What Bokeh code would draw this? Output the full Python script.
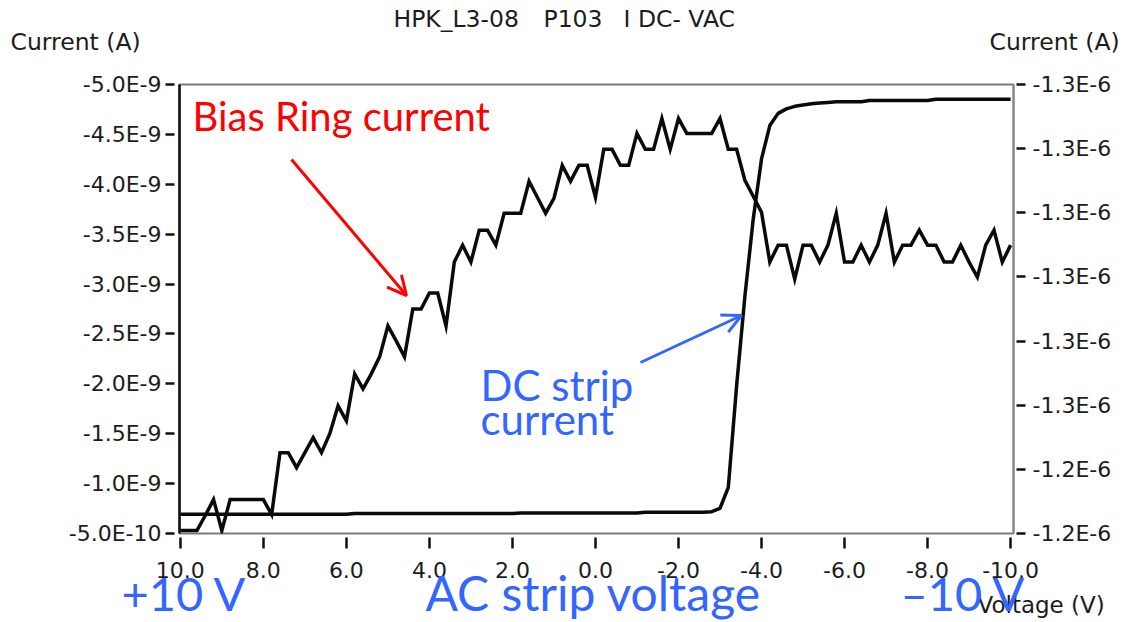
from bokeh.plotting import figure
from bokeh.layouts import column
from bokeh.models import (Range1d, LinearAxis, FixedTicker, CustomJSTickFormatter,
                          Label, Arrow, OpenHead, ColumnDataSource)
from bokeh.embed import file_html
from bokeh.resources import INLINE

# Voltage sweep on the AC strip (V)
voltage = [10.0, 9.8, 9.6, 9.4, 9.2, 9.0, 8.8, 8.6, 8.4, 8.2,
           8.0, 7.8, 7.6, 7.4, 7.2, 7.0, 6.8, 6.6, 6.4, 6.2,
           6.0, 5.8, 5.6, 5.4, 5.2, 5.0, 4.8, 4.6, 4.4, 4.2,
           4.0, 3.8, 3.6, 3.4, 3.2, 3.0, 2.8, 2.6, 2.4, 2.2,
           2.0, 1.8, 1.6, 1.4, 1.2, 1.0, 0.8, 0.6, 0.4, 0.2,
           0.0, -0.2, -0.4, -0.6, -0.8, -1.0, -1.2, -1.4, -1.6, -1.8,
           -2.0, -2.2, -2.4, -2.6, -2.8, -3.0, -3.2, -3.4, -3.6, -3.8,
           -4.0, -4.2, -4.4, -4.6, -4.8, -5.0, -5.2, -5.4, -5.6, -5.8,
           -6.0, -6.2, -6.4, -6.6, -6.8, -7.0, -7.2, -7.4, -7.6, -7.8,
           -8.0, -8.2, -8.4, -8.6, -8.8, -9.0, -9.2, -9.4, -9.6, -9.8,
           -10.0]

# Bias ring current (nA)
bias_ring_na = [-0.53, -0.53, -0.53, -0.68, -0.84, -0.53, -0.84, -0.84, -0.84, -0.84,
                -0.84, -0.69, -1.31, -1.31, -1.16, -1.31, -1.46, -1.31, -1.50, -1.78,
                -1.63, -2.10, -1.95, -2.10, -2.27, -2.58, -2.43, -2.27, -2.75, -2.75,
                -2.91, -2.91, -2.58, -3.22, -3.39, -3.22, -3.54, -3.54, -3.39, -3.71,
                -3.71, -3.71, -4.03, -3.87, -3.71, -3.86, -4.19, -4.03, -4.19, -4.19,
                -3.87, -4.35, -4.35, -4.19, -4.19, -4.51, -4.35, -4.35, -4.66, -4.35,
                -4.66, -4.51, -4.51, -4.51, -4.51, -4.66, -4.35, -4.35, -4.04, -3.88,
                -3.72, -3.22, -3.39, -3.39, -3.05, -3.39, -3.39, -3.22, -3.39, -3.71,
                -3.22, -3.22, -3.39, -3.22, -3.39, -3.71, -3.22, -3.39, -3.39, -3.54,
                -3.39, -3.39, -3.22, -3.22, -3.39, -3.22, -3.07, -3.39, -3.54, -3.22,
                -3.39]

# DC strip current (uA)
dc_strip_ua = [-1.2400, -1.2400, -1.2400, -1.2400, -1.2400, -1.2400, -1.2400, -1.2400, -1.2400, -1.2400,
               -1.2400, -1.2400, -1.2400, -1.2400, -1.2400, -1.2400, -1.2400, -1.2400, -1.2400, -1.2400,
               -1.2400, -1.2401, -1.2401, -1.2401, -1.2401, -1.2401, -1.2401, -1.2401, -1.2401, -1.2401,
               -1.2401, -1.2401, -1.2401, -1.2401, -1.2401, -1.2401, -1.2401, -1.2401, -1.2401, -1.2401,
               -1.2401, -1.2402, -1.2402, -1.2402, -1.2402, -1.2402, -1.2402, -1.2402, -1.2402, -1.2402,
               -1.2402, -1.2402, -1.2402, -1.2402, -1.2402, -1.2402, -1.2403, -1.2403, -1.2403, -1.2403,
               -1.2403, -1.2403, -1.2403, -1.2403, -1.2404, -1.2409, -1.2442, -1.2600, -1.2740, -1.2860,
               -1.2954, -1.3006, -1.3025, -1.3032, -1.3036, -1.3038, -1.3040, -1.3041, -1.3042, -1.3043,
               -1.3043, -1.3043, -1.3043, -1.3045, -1.3045, -1.3045, -1.3045, -1.3045, -1.3045, -1.3045,
               -1.3045, -1.3047, -1.3047, -1.3047, -1.3047, -1.3047, -1.3047, -1.3047, -1.3047, -1.3047,
               -1.3047]

# Axis ticks
x_ticks = [10.0, 8.0, 6.0, 4.0, 2.0, 0.0, -2.0, -4.0, -6.0, -8.0, -10.0]
left_ticks_na = [-0.5, -1.0, -1.5, -2.0, -2.5, -3.0, -3.5, -4.0, -4.5, -5.0]
right_ticks_ua = [-1.237, -1.247, -1.257, -1.267, -1.277, -1.287, -1.297, -1.307]

bias_ring_a = [v * 1e-9 for v in bias_ring_na]
dc_strip_a = [v * 1e-6 for v in dc_strip_ua]
left_ticks_a = [v * 1e-9 for v in left_ticks_na]
right_ticks_a = [v * 1e-6 for v in right_ticks_ua]

W, H = 1124, 622
HEAD_H = 60            # strip above the chart holding title and axis headings
MAIN_H = 540           # chart canvas, page rows 60..600
FOOT_TOP = 555         # transparent strip below, laid over the chart's bottom margin
FL, FR, FT, FB = 179, 1013, 84, 533   # plot frame edges on the page

TEXT_COLOR = "#1c1c1c"
RED = "#ff0000"
BLUE = "#3366ff"


def strip(top, bottom):
    """Axis-less canvas whose data coordinates are page pixels."""
    f = figure(width=W, height=bottom - top, output_backend="svg", toolbar_location=None,
               x_range=Range1d(0, W), y_range=Range1d(bottom, top),
               x_axis_type=None, y_axis_type=None, min_border=0)
    f.frame_align = False
    f.outline_line_color = None
    f.background_fill_color = None
    f.border_fill_color = None
    return f


def put_text(fig, text, x, y, font, size, color, units="data"):
    # y is the text baseline; Label anchors "alphabetic" about 0.4 em low
    px = float(size.replace("px", ""))
    if units == "data":
        ly = y - 0.4 * px
    else:
        ly = FB - (y - 0.4 * px)
        x = x - FL
    fig.add_layout(Label(x=x, y=ly, x_units=units, y_units=units, text=text,
                         text_font=font, text_font_size=size, text_color=color,
                         text_align="left", text_baseline="alphabetic"))


# ---- main chart ----
p = figure(width=W, height=MAIN_H, output_backend="svg", toolbar_location=None,
           x_range=Range1d(10.02, -10.07),
           y_range=Range1d(left_ticks_a[0], left_ticks_a[-1]),
           min_border_left=FL, min_border_right=W - FR,
           min_border_top=FT - HEAD_H, min_border_bottom=HEAD_H + MAIN_H - FB)
p.frame_align = False
p.extra_y_ranges = {"dc": Range1d(right_ticks_a[0], right_ticks_a[-1])}
p.xgrid.visible = False
p.ygrid.visible = False
p.background_fill_color = "white"
p.border_fill_color = "white"
p.outline_line_color = "#7a7a7a"
p.outline_line_width = 2

sci_fmt = CustomJSTickFormatter(code="""
    const a = Math.abs(tick);
    const e = Math.floor(Math.log10(a) + 1e-9);
    const m = tick / Math.pow(10, e);
    return m.toFixed(1) + "E" + e;
""")
fix_fmt = CustomJSTickFormatter(code="return tick.toFixed(1);")

TICK_FONT = "DejaVu Sans"
TICK_SIZE = "22px"

xa = p.xaxis[0]
xa.ticker = FixedTicker(ticks=x_ticks)
xa.formatter = fix_fmt
xa.axis_line_color = None
xa.major_tick_in = -4
xa.major_tick_out = 15
xa.major_tick_line_width = 2.5
xa.major_tick_line_color = "#111111"
xa.minor_tick_line_color = None
xa.major_label_standoff = 13
xa.major_label_text_font = TICK_FONT
xa.major_label_text_font_size = TICK_SIZE
xa.major_label_text_color = TEXT_COLOR

ya = p.yaxis[0]
ya.ticker = FixedTicker(ticks=left_ticks_a)
ya.formatter = sci_fmt
ya.axis_line_color = "#111111"
ya.axis_line_width = 2.5
ya.major_tick_in = -5
ya.major_tick_out = 14
ya.major_tick_line_width = 2.5
ya.major_tick_line_color = "#111111"
ya.minor_tick_line_color = None
ya.major_label_standoff = 4
ya.major_label_text_font = TICK_FONT
ya.major_label_text_font_size = TICK_SIZE
ya.major_label_text_color = TEXT_COLOR

ra = LinearAxis(y_range_name="dc", ticker=FixedTicker(ticks=right_ticks_a), formatter=sci_fmt)
ra.axis_line_color = "#8a8a8a"
ra.axis_line_width = 2
ra.major_tick_in = -3
ra.major_tick_out = 12
ra.major_tick_line_width = 2.5
ra.major_tick_line_color = "#111111"
ra.minor_tick_line_color = None
ra.major_label_standoff = 7
ra.major_label_text_font = TICK_FONT
ra.major_label_text_font_size = TICK_SIZE
ra.major_label_text_color = TEXT_COLOR
p.add_layout(ra, "right")

src = ColumnDataSource(dict(v=voltage, bias=bias_ring_a, dc=dc_strip_a))
p.line("v", "bias", source=src, line_color="#0a0a0a", line_width=3.5, line_join="miter")
p.line("v", "dc", source=src, y_range_name="dc", line_color="#0a0a0a", line_width=3.5,
       line_join="round")

# curve call-outs inside the frame
put_text(p, "Bias Ring current", 192, 131, "Lato", "40px", RED, units="screen")
put_text(p, "DC strip", 480, 401, "Lato", "42px", BLUE, units="screen")
put_text(p, "current", 480, 435, "Lato", "42px", BLUE, units="screen")

p.add_layout(Arrow(x_start=291 - FL, y_start=FB - 159, x_end=406 - FL, y_end=FB - 295,
                   start_units="screen", end_units="screen",
                   line_color=RED, line_width=3,
                   end=OpenHead(size=19, line_color=RED, line_width=3)))
p.add_layout(Arrow(x_start=640 - FL, y_start=FB - 362, x_end=741 - FL, y_end=FB - 315,
                   start_units="screen", end_units="screen",
                   line_color=BLUE, line_width=3,
                   end=OpenHead(size=19, line_color=BLUE, line_width=3)))

# ---- heading strip ----
head = strip(0, HEAD_H)
head.border_fill_color = "white"
head.background_fill_color = "white"
put_text(head, "HPK_L3-08", 393, 28, "DejaVu Sans", "23.5px", TEXT_COLOR)
put_text(head, "P103", 543, 28, "DejaVu Sans", "23.5px", TEXT_COLOR)
put_text(head, "I DC- VAC", 623, 28, "DejaVu Sans", "23.5px", TEXT_COLOR)
put_text(head, "Current (A)", 10, 51, "DejaVu Sans", "23.5px", TEXT_COLOR)
put_text(head, "Current (A)", 989, 51, "DejaVu Sans", "23.5px", TEXT_COLOR)

# ---- sweep strip ----
foot = strip(FOOT_TOP, H)
foot.margin = (FOOT_TOP - (HEAD_H + MAIN_H), 0, 0, 0)
put_text(foot, "Voltage (V)", 977, 614, "DejaVu Sans", "23px", TEXT_COLOR)
put_text(foot, "+10 V", 121, 611, "Lato", "47px", BLUE)
put_text(foot, "AC strip voltage", 425, 611, "Lato", "48px", BLUE)
put_text(foot, "\u201310 V", 900, 611, "Lato", "47px", BLUE)

page = column(head, p, foot, spacing=0)
open("out.html", "w").write(file_html(page, INLINE))
